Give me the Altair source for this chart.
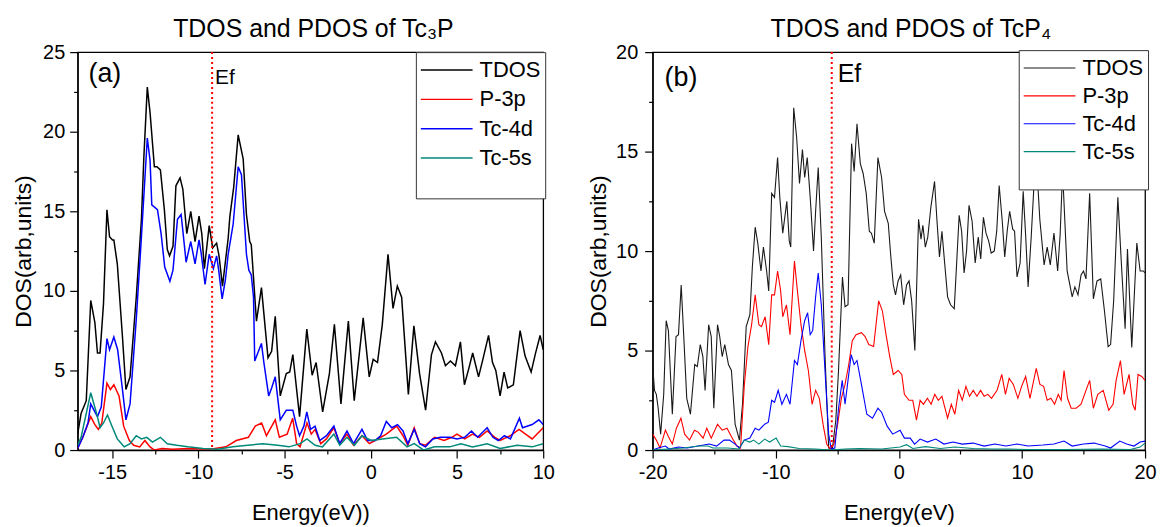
import altair as alt
import pandas as pd

FONT = "Liberation Sans"
SERIES = ["TDOS", "P-3p", "Tc-4d", "Tc-5s"]
COLORS_A = ["#000000", "#ff0000", "#0000ff", "#00897b"]
COLORS_B = ["#1a1a1a", "#ff0000", "#0000ff", "#00897b"]

# ---------------- Panel (a): Tc3P, [energy (eV), DOS] ----------------
a_tdos = [(-17.0, 1.0), (-16.8, 2.3), (-16.5, 3.1), (-16.24, 9.4), (-16.0, 8.0), (-15.85, 6.1),
          (-15.7, 6.1), (-15.5, 9.2), (-15.3, 15.1), (-15.15, 13.4), (-14.98, 13.2), (-14.9, 13.2),
          (-14.7, 11.7), (-14.4, 7.1), (-14.2, 3.8), (-13.96, 4.6), (-13.6, 9.6), (-13.3, 14.5),
          (-13.16, 18.4), (-12.96, 22.8), (-12.8, 21.2), (-12.55, 17.8), (-12.4, 17.8), (-12.2, 17.6),
          (-11.97, 15.1), (-11.8, 12.6), (-11.67, 12.2), (-11.47, 12.8), (-11.3, 16.6), (-11.06, 17.1),
          (-10.9, 16.4), (-10.67, 13.6), (-10.44, 15.0), (-10.19, 13.1), (-9.96, 14.7), (-9.8, 13.6),
          (-9.65, 11.4), (-9.37, 14.1), (-9.17, 12.7), (-8.94, 13.0), (-8.8, 12.2), (-8.6, 10.3),
          (-8.27, 13.3), (-8.17, 14.7), (-7.95, 16.5), (-7.69, 19.8), (-7.4, 18.3), (-7.21, 14.8),
          (-7.02, 13.1), (-6.93, 12.9), (-6.63, 8.1), (-6.34, 10.2), (-5.96, 5.8), (-5.75, 6.2),
          (-5.54, 8.4), (-5.25, 3.4), (-4.9, 4.8), (-4.7, 4.9), (-4.52, 6.0), (-4.13, 2.1),
          (-3.71, 7.6), (-3.4, 4.7), (-3.17, 5.5), (-2.79, 2.4), (-2.4, 4.8), (-2.11, 7.9),
          (-1.73, 2.9), (-1.3, 8.1), (-0.96, 3.1), (-0.44, 8.3), (-0.09, 4.6), (0.14, 5.7),
          (0.39, 5.5), (0.67, 7.9), (1.0, 12.3), (1.29, 8.9), (1.54, 10.3), (1.79, 9.6),
          (2.18, 3.5), (2.5, 7.8), (2.83, 4.8), (3.18, 2.5), (3.52, 6.0), (3.75, 6.8),
          (4.1, 6.1), (4.33, 5.3), (4.62, 5.6), (4.91, 5.3), (5.2, 6.8), (5.43, 4.1),
          (5.68, 5.1), (5.91, 6.1), (6.25, 4.6), (6.48, 5.6), (6.83, 7.2), (7.06, 5.5),
          (7.25, 5.0), (7.5, 3.4), (7.73, 4.9), (7.94, 3.9), (8.27, 4.1), (8.66, 7.5),
          (8.95, 5.9), (9.3, 4.9), (9.56, 6.1), (9.82, 7.2), (10.0, 6.3)]

a_p3p = [(-17.0, 0.1), (-16.7, 0.8), (-16.24, 2.1), (-16.0, 1.6), (-15.8, 1.3), (-15.6, 1.7),
         (-15.3, 4.2), (-15.1, 3.8), (-14.9, 4.1), (-14.6, 3.4), (-14.33, 1.5), (-14.0, 0.6),
         (-13.75, 0.3), (-13.4, 0.2), (-13.1, 0.6), (-12.8, 0.2), (-12.55, 0.0), (-12.1, 0.1),
         (-11.5, 0.05), (-10.6, 0.1), (-9.3, 0.05), (-8.4, 0.2), (-7.8, 0.6), (-7.1, 0.8),
         (-6.7, 1.5), (-6.33, 1.7), (-6.05, 0.9), (-5.54, 1.9), (-5.3, 0.8), (-4.85, 1.0),
         (-4.53, 2.0), (-4.3, 0.4), (-4.1, 0.2), (-3.7, 1.7), (-3.45, 1.0), (-3.23, 1.3),
         (-2.9, 0.4), (-2.57, 0.7), (-2.14, 1.4), (-1.8, 0.4), (-1.38, 1.0), (-1.0, 0.3),
         (-0.51, 0.9), (-0.08, 0.4), (0.25, 0.6), (0.9, 1.0), (1.5, 1.5), (1.87, 0.9),
         (2.15, 0.3), (2.52, 1.4), (2.84, 0.4), (3.17, 0.3), (3.7, 0.8), (4.25, 0.6),
         (4.7, 0.8), (5.0, 1.0), (5.45, 0.7), (5.9, 1.0), (6.3, 0.8), (6.75, 1.2),
         (7.2, 0.8), (7.5, 0.6), (8.1, 0.9), (8.6, 1.3), (9.36, 0.7), (10.0, 1.4)]

a_tc4d = [(-17.0, 0.1), (-16.7, 0.8), (-16.4, 1.7), (-16.24, 2.9), (-16.0, 2.4), (-15.85, 2.1),
          (-15.63, 2.7), (-15.3, 7.0), (-15.15, 6.3), (-14.9, 7.1), (-14.68, 6.3), (-14.4, 3.8),
          (-14.2, 1.9), (-13.96, 2.9), (-13.6, 8.2), (-13.3, 13.4), (-12.96, 19.6), (-12.8, 18.2),
          (-12.7, 15.4), (-12.37, 15.1), (-12.16, 13.6), (-11.95, 11.5), (-11.65, 10.6), (-11.47, 11.3),
          (-11.21, 14.5), (-11.0, 14.8), (-10.9, 13.8), (-10.71, 11.8), (-10.44, 13.1), (-10.19, 11.7),
          (-9.96, 13.2), (-9.84, 12.4), (-9.61, 10.4), (-9.37, 12.3), (-9.13, 11.4), (-8.94, 12.2),
          (-8.82, 11.3), (-8.62, 9.5), (-8.43, 10.7), (-8.27, 12.3), (-7.98, 14.2), (-7.69, 17.8),
          (-7.5, 17.3), (-7.21, 12.3), (-7.07, 11.3), (-6.93, 11.0), (-6.8, 9.6), (-6.73, 5.6),
          (-6.48, 6.3), (-6.34, 6.7), (-6.2, 5.5), (-5.92, 3.4), (-5.75, 3.9), (-5.54, 4.6),
          (-5.25, 1.9), (-4.9, 2.5), (-4.52, 2.5), (-4.3, 1.5), (-4.13, 0.9), (-3.88, 1.5),
          (-3.71, 2.4), (-3.49, 1.3), (-3.23, 1.5), (-2.96, 0.6), (-2.57, 0.9), (-2.14, 1.5),
          (-1.8, 0.4), (-1.38, 1.2), (-1.0, 0.4), (-0.51, 1.3), (-0.18, 0.6), (0.25, 0.6),
          (0.57, 0.9), (0.9, 1.8), (1.22, 1.4), (1.55, 1.6), (1.87, 1.2), (2.15, 0.4),
          (2.52, 1.3), (2.84, 0.4), (3.17, 0.2), (3.6, 0.7), (4.04, 0.8), (4.58, 0.8),
          (5.0, 0.7), (5.45, 0.8), (5.84, 1.2), (6.2, 0.8), (6.75, 1.4), (7.08, 0.8),
          (7.4, 0.6), (7.75, 0.9), (8.1, 0.7), (8.62, 2.0), (8.8, 1.4), (9.36, 1.6),
          (9.75, 1.9), (10.0, 1.6)]

a_tc5s = [(-17.0, 0.3), (-16.8, 0.8), (-16.24, 3.6), (-15.9, 2.3), (-15.7, 1.4), (-15.5, 1.7),
          (-15.27, 2.2), (-15.05, 1.6), (-14.7, 0.7), (-14.3, 0.2), (-13.96, 0.4), (-13.6, 0.9),
          (-13.3, 0.7), (-12.99, 0.8), (-12.66, 0.5), (-12.2, 0.8), (-11.8, 0.4), (-11.25, 0.3),
          (-10.6, 0.2), (-9.73, 0.1), (-8.87, 0.05), (-8.0, 0.2), (-7.13, 0.3), (-6.26, 0.4),
          (-5.4, 0.3), (-4.74, 0.2), (-4.1, 0.4), (-3.7, 0.7), (-3.23, 0.3), (-2.8, 0.2),
          (-2.14, 1.0), (-1.8, 0.3), (-1.38, 0.8), (-0.95, 0.3), (-0.51, 0.9), (0.03, 0.6),
          (0.68, 0.7), (1.5, 0.8), (2.1, 0.2), (2.52, 0.4), (3.07, 0.0), (3.7, 0.2),
          (4.58, 0.2), (5.23, 0.4), (5.9, 0.2), (6.75, 0.4), (7.5, 0.1), (8.5, 0.3),
          (9.36, 0.2), (10.0, 0.4)]

# ---------------- Panel (b): TcP4, [energy (eV), DOS] ----------------
b_tdos = [(-20.0, 4.3), (-19.85, 3.0), (-19.7, 2.8), (-19.55, 2.1), (-19.35, 0.8), (-19.1, 2.8),
          (-18.9, 6.5), (-18.72, 6.0), (-18.4, 1.8), (-18.1, 5.7), (-17.9, 5.8), (-17.68, 8.3),
          (-17.47, 5.7), (-17.23, 2.6), (-16.93, 1.8), (-16.58, 4.3), (-16.37, 4.2), (-16.13, 5.3),
          (-15.92, 4.7), (-15.74, 3.0), (-15.45, 6.3), (-15.24, 5.7), (-15.03, 2.1), (-14.73, 6.3),
          (-14.55, 5.7), (-14.35, 4.7), (-14.14, 5.3), (-13.84, 4.3), (-13.6, 4.0), (-13.3, 1.3),
          (-12.95, 0.5), (-12.7, 2.3), (-12.4, 6.2), (-12.1, 6.8), (-11.9, 9.2), (-11.67, 11.2),
          (-11.46, 10.4), (-11.2, 9.0), (-11.0, 10.2), (-10.74, 9.0), (-10.57, 8.0), (-10.33, 12.9),
          (-10.1, 12.7), (-9.85, 14.7), (-9.67, 12.7), (-9.43, 10.9), (-9.1, 12.5), (-8.9, 10.5),
          (-8.78, 10.2), (-8.54, 17.2), (-8.3, 15.7), (-8.07, 13.4), (-7.83, 15.1), (-7.65, 13.7),
          (-7.44, 14.7), (-7.2, 12.7), (-6.93, 10.0), (-6.76, 12.0), (-6.55, 14.2), (-6.3, 10.7),
          (-6.0, 4.8), (-5.7, 0.1), (-5.4, 0.05), (-5.12, 1.5), (-4.9, 4.0), (-4.58, 8.7),
          (-4.37, 7.2), (-4.13, 7.3), (-3.84, 15.4), (-3.63, 14.0), (-3.4, 16.4), (-3.13, 14.4),
          (-2.9, 13.9), (-2.65, 12.9), (-2.4, 11.0), (-2.23, 10.9), (-2.0, 10.4), (-1.7, 14.7),
          (-1.4, 13.7), (-1.16, 12.0), (-0.86, 11.4), (-0.65, 9.7), (-0.45, 8.3), (-0.27, 7.8),
          (-0.06, 8.5), (0.15, 8.8), (0.39, 7.3), (0.63, 8.3), (0.83, 8.5), (1.04, 7.5),
          (1.3, 5.0), (1.6, 11.6), (1.8, 10.6), (1.95, 11.3), (2.15, 10.2), (2.35, 10.7),
          (2.6, 12.2), (2.9, 13.5), (3.1, 11.5), (3.3, 9.7), (3.5, 11.0), (3.72, 9.4),
          (3.96, 7.7), (4.2, 7.3), (4.5, 7.1), (4.9, 11.8), (5.1, 11.0), (5.3, 8.9),
          (5.5, 10.0), (5.7, 12.3), (5.95, 11.5), (6.2, 9.4), (6.45, 10.7), (6.65, 9.6),
          (6.87, 11.7), (7.08, 10.9), (7.3, 10.5), (7.5, 9.9), (7.75, 10.0), (7.95, 11.0),
          (8.15, 13.3), (8.4, 11.5), (8.6, 9.7), (8.8, 11.0), (9.0, 12.0), (9.25, 11.1),
          (9.4, 11.0), (9.6, 8.7), (9.85, 9.4), (10.1, 13.0), (10.3, 10.8), (10.5, 8.2),
          (10.75, 10.7), (11.0, 13.6), (11.2, 14.3), (11.45, 11.6), (11.8, 9.3), (12.05, 10.2),
          (12.3, 9.3), (12.6, 10.9), (12.9, 9.0), (13.1, 10.8), (13.3, 14.0), (13.67, 9.0),
          (14.08, 7.7), (14.3, 8.2), (14.55, 7.8), (14.8, 8.8), (15.0, 9.0), (15.2, 8.6),
          (15.5, 12.9), (15.8, 7.6), (16.1, 8.5), (16.4, 8.6), (16.7, 7.0), (17.0, 5.2),
          (17.2, 5.3), (17.45, 7.5), (17.79, 12.7), (18.1, 9.1), (18.38, 6.1), (18.57, 10.1),
          (18.92, 5.15), (19.33, 10.4), (19.6, 9.0), (19.86, 9.0), (20.0, 8.9)]

b_p3p = [(-20.0, 0.8), (-19.7, 0.5), (-19.4, 0.1), (-18.96, 1.0), (-18.66, 0.6), (-18.4, 0.3),
         (-18.07, 1.1), (-17.7, 1.6), (-17.4, 0.8), (-17.0, 0.5), (-16.6, 1.0), (-16.3, 0.9),
         (-15.9, 0.6), (-15.6, 1.1), (-15.24, 0.6), (-14.73, 1.3), (-14.35, 1.0), (-13.96, 1.1),
         (-13.54, 0.6), (-13.15, 0.2), (-12.86, 0.1), (-12.56, 3.2), (-12.26, 5.2), (-11.96, 6.3),
         (-11.67, 7.8), (-11.37, 6.3), (-11.16, 6.2), (-10.86, 6.7), (-10.57, 5.3), (-10.33, 7.8),
         (-10.1, 7.8), (-9.85, 9.0), (-9.6, 8.0), (-9.43, 6.7), (-9.13, 7.3), (-8.84, 5.8),
         (-8.48, 9.5), (-8.24, 8.0), (-7.95, 6.3), (-7.65, 5.0), (-7.35, 4.0), (-7.05, 2.3),
         (-6.76, 3.0), (-6.46, 2.6), (-6.16, 1.3), (-5.86, 0.3), (-5.57, 0.05), (-5.27, 0.3),
         (-4.97, 1.3), (-4.67, 2.6), (-4.37, 3.3), (-4.07, 4.3), (-3.78, 5.5), (-3.48, 5.8),
         (-3.04, 5.9), (-2.74, 5.7), (-2.44, 5.3), (-2.05, 5.2), (-1.64, 7.5), (-1.34, 7.0),
         (-1.04, 5.8), (-0.74, 4.7), (-0.45, 3.8), (-0.06, 4.0), (0.24, 3.8), (0.45, 2.8),
         (0.83, 2.5), (1.13, 2.5), (1.43, 1.5), (1.73, 2.5), (2.0, 2.3), (2.32, 2.6),
         (2.62, 2.3), (2.92, 2.8), (3.2, 2.5), (3.5, 2.7), (3.96, 1.6), (4.26, 2.3),
         (4.55, 1.8), (4.85, 3.0), (5.15, 2.5), (5.45, 3.2), (5.74, 2.7), (6.04, 3.0),
         (6.34, 2.7), (6.64, 3.0), (6.93, 2.7), (7.23, 2.8), (7.53, 2.6), (7.98, 3.0),
         (8.36, 3.8), (8.66, 2.8), (8.96, 3.6), (9.3, 3.3), (9.67, 2.6), (9.97, 3.2),
         (10.3, 3.7), (10.65, 2.6), (11.16, 4.1), (11.46, 3.3), (11.76, 3.2), (12.05, 2.5),
         (12.35, 2.6), (12.65, 2.3), (12.95, 2.8), (13.18, 2.5), (13.42, 4.0), (13.7, 2.6),
         (14.0, 2.1), (14.4, 2.1), (14.8, 2.3), (15.2, 3.0), (15.5, 3.5), (15.8, 2.1),
         (16.16, 2.8), (16.6, 3.0), (17.05, 2.0), (17.4, 2.3), (17.65, 3.5), (18.0, 4.5),
         (18.3, 2.8), (18.7, 3.8), (19.0, 2.3), (19.2, 2.0), (19.43, 3.8), (19.73, 3.7),
         (20.0, 3.5)]

b_tc4d = [(-20.0, 0.0), (-19.55, 0.1), (-18.96, 0.2), (-18.66, 0.05), (-17.9, 0.15), (-17.2, 0.1),
          (-16.3, 0.2), (-15.4, 0.3), (-14.8, 0.2), (-14.2, 0.5), (-13.75, 0.5), (-13.3, 0.3),
          (-12.95, 0.1), (-12.56, 0.5), (-12.1, 0.6), (-11.67, 1.1), (-11.37, 1.0), (-10.9, 1.3),
          (-10.6, 1.4), (-10.33, 2.5), (-10.1, 2.4), (-9.8, 3.0), (-9.5, 2.3), (-9.13, 2.8),
          (-8.84, 2.3), (-8.48, 4.5), (-8.24, 4.3), (-7.95, 5.5), (-7.65, 6.5), (-7.41, 6.9),
          (-7.2, 5.8), (-7.0, 6.0), (-6.76, 7.7), (-6.55, 8.9), (-6.3, 7.3), (-6.0, 4.0),
          (-5.7, 0.8), (-5.5, 0.05), (-5.2, 0.1), (-4.9, 2.1), (-4.6, 3.5), (-4.37, 2.3),
          (-4.13, 3.5), (-3.87, 4.8), (-3.63, 4.3), (-3.4, 4.5), (-3.04, 3.3), (-2.6, 1.8),
          (-2.14, 1.6), (-1.7, 2.1), (-1.4, 1.9), (-0.95, 1.2), (-0.5, 0.8), (0.1, 1.0),
          (0.45, 0.6), (0.92, 0.6), (1.28, 0.3), (1.73, 0.55), (2.32, 0.4), (3.0, 0.55),
          (3.66, 0.3), (4.4, 0.4), (5.15, 0.3), (6.04, 0.35), (6.93, 0.2), (7.8, 0.3),
          (8.7, 0.2), (9.6, 0.3), (10.5, 0.2), (11.7, 0.25), (12.6, 0.3), (13.42, 0.45),
          (14.08, 0.2), (15.0, 0.3), (15.86, 0.35), (16.76, 0.2), (17.2, 0.1), (17.95, 0.45),
          (18.5, 0.3), (19.1, 0.2), (19.6, 0.4), (20.0, 0.45)]

b_tc5s = [(-20.0, 0.0), (-17.5, 0.1), (-16.3, 0.2), (-15.5, 0.2), (-15.1, 0.1), (-13.9, 0.1),
          (-13.0, 0.05), (-12.56, 0.5), (-12.1, 0.4), (-11.8, 0.5), (-11.37, 0.3), (-10.9, 0.55),
          (-10.5, 0.4), (-9.97, 0.6), (-9.6, 0.2), (-9.0, 0.17), (-8.1, 0.08), (-6.76, 0.05),
          (-5.57, 0.0), (-4.37, 0.05), (-3.2, 0.08), (-1.4, 0.05), (0.1, 0.15), (0.63, 0.27),
          (1.13, 0.08), (2.17, 0.17), (3.36, 0.08), (4.55, 0.15), (6.04, 0.08), (7.53, 0.05),
          (9.02, 0.05), (10.5, 0.03), (13.5, 0.03), (16.46, 0.05), (18.8, 0.03), (19.6, 0.15),
          (20.0, 0.35)]

# Fermi levels and tick positions
a_ef = -9.2
b_ef = -5.45
a_xmajor = [-15, -10, -5, 0, 5, 10]
a_xminor = [-12.5, -7.5, -2.5, 2.5, 7.5]
a_ymajor = [0, 5, 10, 15, 20, 25]
a_yminor = [2.5, 7.5, 12.5, 17.5, 22.5]
b_xmajor = [-20, -10, 0, 10, 20]
b_xminor = [-15, -5, 5, 15]
b_ymajor = [0, 5, 10, 15, 20]
b_yminor = [2.5, 7.5, 12.5, 17.5]

AX = dict(grid=False, labelFontSize=20, labelFont=FONT, titleFont=FONT, labelColor="black",
          titleColor="black", titleFontWeight="normal", domainColor="black", tickColor="black",
          domainWidth=1.3, tickWidth=1.2, labelFlush=False, labelOverlap=False)


def long_df(series_lists):
    rows = []
    for name, pts in zip(SERIES, series_lists):
        for e, v in pts:
            rows.append({"E": e, "DOS": v, "series": name})
    return pd.DataFrame(rows)


def panel(series_lists, colors, xdom, ydom, xmaj, xmin, ymaj, ymin, xtitle, ef, ef_y, ef_dx, ef_fs,
          tag, tag_x, tag_y, title, title_dx, lx, ly, lw, w, ylab_pad, ytitle_pad, row_pad, lt_fs):
    df = long_df(series_lists)
    xs = alt.Scale(domain=xdom, nice=False, zero=False)
    ys = alt.Scale(domain=ydom, nice=False, zero=False)
    X = alt.X("E:Q", scale=xs,
              axis=alt.Axis(values=xmaj, labelExpr="'' + datum.value", title=xtitle, tickSize=8,
                            labelPadding=5, titlePadding=20, titleFontSize=22, **AX))
    Y = alt.Y("DOS:Q", scale=ys,
              axis=alt.Axis(values=ymaj, labelExpr="'' + datum.value", title="DOS(arb,units)",
                            tickSize=8, labelPadding=ylab_pad, titlePadding=ytitle_pad,
                            titleFontSize=23, **AX))
    Xm = alt.X("E:Q", scale=xs,
               axis=alt.Axis(values=xmin, labels=False, domain=False, title=None, tickSize=4,
                             grid=False, tickColor="black", tickWidth=1.2, orient="bottom"))
    Ym = alt.Y("DOS:Q", scale=ys,
               axis=alt.Axis(values=ymin, labels=False, domain=False, title=None, tickSize=4,
                             grid=False, tickColor="black", tickWidth=1.2, orient="left"))
    legend = alt.Legend(orient="none", legendX=lx, legendY=ly, title=" ", titleOrient="bottom",
                        titleFontSize=lt_fs, titlePadding=4, symbolType="M-1,0L3,0", symbolSize=676,
                        symbolStrokeWidth=lw, labelFontSize=22, labelFont=FONT, labelColor="black",
                        labelOffset=32, rowPadding=row_pad, padding=4, strokeColor="#333",
                        fillColor="white", symbolOffset=0, labelLimit=300)
    lines = alt.Chart(df).mark_line(strokeWidth=lw, clip=True).encode(
        x=X, y=Y,
        color=alt.Color("series:N", scale=alt.Scale(domain=SERIES, range=colors), legend=legend),
    )
    ef_df = pd.DataFrame({"E": [ef], "DOS": [ef_y], "label": ["Ef"]})
    rule = alt.Chart(ef_df).mark_rule(color="#ff0000", strokeWidth=2, strokeDash=[2, 3]).encode(x=X)
    ef_txt = alt.Chart(ef_df).mark_text(align="left", baseline="middle", dx=ef_dx, fontSize=ef_fs,
                                        font=FONT, color="black").encode(x=X, y=Y, text="label:N")
    tag_df = pd.DataFrame({"E": [tag_x], "DOS": [tag_y], "label": [tag]})
    tag_txt = alt.Chart(tag_df).mark_text(align="left", baseline="middle", fontSize=27,
                                          font=FONT, color="black").encode(x=X, y=Y, text="label:N")
    minor = alt.Chart(tag_df).mark_point(opacity=0).encode(x=Xm, y=Ym)
    main = alt.layer(lines, rule, ef_txt, tag_txt)
    return alt.layer(main, minor).resolve_axis(x="independent", y="independent").properties(
        width=w, height=400,
        title=alt.TitleParams(text=title, font=FONT, fontSize=25, fontWeight="normal",
                              anchor="middle", offset=0, dx=title_dx, color="black"),
    )


pa = panel([a_tdos, a_p3p, a_tc4d, a_tc5s], COLORS_A, [-17, 10], [0, 25], a_xmajor, a_xminor,
           a_ymajor, a_yminor, "Energy(eV))", a_ef, 23.4, 3, 21, "(a)", -16.37, 23.6,
           "TDOS and PDOS of Tc\u2083P", 3, 340, 0, 1.5, 468, 5, 7, 4.5, 22)
pb = panel([b_tdos, b_p3p, b_tc4d, b_tc5s], COLORS_B, [-20, 20], [0, 20], b_xmajor, b_xminor,
           b_ymajor, b_yminor, "Energy(eV)", b_ef, 18.9, 6, 25, "(b)", -19.03, 18.7,
           "TDOS and PDOS of TcP\u2084", 12, 368, -2, 1.1, 495, 7, 5, 3, 19)

chart = alt.hconcat(pa, pb, spacing=110, bounds="flush").resolve_scale(
    color="independent", x="independent", y="independent"
).resolve_legend(color="independent").properties(
    padding={"left": 4, "top": 7, "right": 0, "bottom": 0}
).configure_view(stroke="black", strokeWidth=1.3)

chart.save("out.html", embed_options={"renderer": "svg", "actions": False})
